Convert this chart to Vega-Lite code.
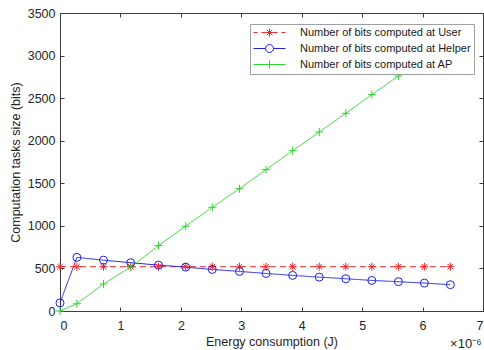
{
  "$schema": "https://vega.github.io/schema/vega-lite/v6.json",
  "width": 423,
  "height": 298,
  "autosize": {"type": "none"},
  "padding": {"left": 60, "top": 13, "right": 1, "bottom": 39},
  "background": "white",
  "config": {
    "view": {"stroke": null},
    "font": "Liberation Sans",
    "axis": {
      "grid": false,
      "domainColor": "#3c3c3c",
      "tickColor": "#3c3c3c",
      "labelColor": "#262626",
      "titleColor": "#262626",
      "labelFont": "Liberation Sans",
      "titleFont": "Liberation Sans",
      "labelFontSize": 12.5,
      "titleFontSize": 12.5,
      "titleFontWeight": "normal",
      "tickSize": -4,
      "domainWidth": 1,
      "format": "d"
    },
    "legend": {"labelLimit": 0}
  },
  "data": {
    "values": [
      {"x": 0, "y": 520, "s": "Number of bits computed at User"},
      {"x": 0.28, "y": 520, "s": "Number of bits computed at User"},
      {"x": 0.72, "y": 520, "s": "Number of bits computed at User"},
      {"x": 1.17, "y": 520, "s": "Number of bits computed at User"},
      {"x": 1.63, "y": 520, "s": "Number of bits computed at User"},
      {"x": 2.08, "y": 520, "s": "Number of bits computed at User"},
      {"x": 2.52, "y": 520, "s": "Number of bits computed at User"},
      {"x": 2.97, "y": 520, "s": "Number of bits computed at User"},
      {"x": 3.41, "y": 520, "s": "Number of bits computed at User"},
      {"x": 3.85, "y": 520, "s": "Number of bits computed at User"},
      {"x": 4.29, "y": 520, "s": "Number of bits computed at User"},
      {"x": 4.73, "y": 520, "s": "Number of bits computed at User"},
      {"x": 5.16, "y": 520, "s": "Number of bits computed at User"},
      {"x": 5.6, "y": 520, "s": "Number of bits computed at User"},
      {"x": 6.03, "y": 520, "s": "Number of bits computed at User"},
      {"x": 6.46, "y": 520, "s": "Number of bits computed at User"},
      {"x": 0, "y": 95, "s": "Number of bits computed at Helper"},
      {"x": 0.28, "y": 630, "s": "Number of bits computed at Helper"},
      {"x": 0.72, "y": 597, "s": "Number of bits computed at Helper"},
      {"x": 1.17, "y": 567, "s": "Number of bits computed at Helper"},
      {"x": 1.63, "y": 539, "s": "Number of bits computed at Helper"},
      {"x": 2.08, "y": 515, "s": "Number of bits computed at Helper"},
      {"x": 2.52, "y": 488, "s": "Number of bits computed at Helper"},
      {"x": 2.97, "y": 465, "s": "Number of bits computed at Helper"},
      {"x": 3.41, "y": 441, "s": "Number of bits computed at Helper"},
      {"x": 3.85, "y": 418, "s": "Number of bits computed at Helper"},
      {"x": 4.29, "y": 398, "s": "Number of bits computed at Helper"},
      {"x": 4.73, "y": 379, "s": "Number of bits computed at Helper"},
      {"x": 5.16, "y": 359, "s": "Number of bits computed at Helper"},
      {"x": 5.6, "y": 344, "s": "Number of bits computed at Helper"},
      {"x": 6.03, "y": 328, "s": "Number of bits computed at Helper"},
      {"x": 6.46, "y": 309, "s": "Number of bits computed at Helper"},
      {"x": 0, "y": 0, "s": "Number of bits computed at AP"},
      {"x": 0.28, "y": 85, "s": "Number of bits computed at AP"},
      {"x": 0.72, "y": 318, "s": "Number of bits computed at AP"},
      {"x": 1.17, "y": 515, "s": "Number of bits computed at AP"},
      {"x": 1.63, "y": 769, "s": "Number of bits computed at AP"},
      {"x": 2.08, "y": 996, "s": "Number of bits computed at AP"},
      {"x": 2.52, "y": 1218, "s": "Number of bits computed at AP"},
      {"x": 2.97, "y": 1437, "s": "Number of bits computed at AP"},
      {"x": 3.41, "y": 1660, "s": "Number of bits computed at AP"},
      {"x": 3.85, "y": 1883, "s": "Number of bits computed at AP"},
      {"x": 4.29, "y": 2102, "s": "Number of bits computed at AP"},
      {"x": 4.73, "y": 2322, "s": "Number of bits computed at AP"},
      {"x": 5.16, "y": 2541, "s": "Number of bits computed at AP"},
      {"x": 5.6, "y": 2760, "s": "Number of bits computed at AP"},
      {"x": 6.03, "y": 2980, "s": "Number of bits computed at AP"},
      {"x": 6.46, "y": 3200, "s": "Number of bits computed at AP"}
    ]
  },
  "layer": [
    {
      "mark": {"type": "line", "strokeWidth": 1},
      "encoding": {
        "x": {"field": "x", "type": "quantitative", "scale": {"domain": [0, 7], "nice": false},
              "axis": {"orient": "bottom", "title": "Energy consumption (J)", "values": [0, 1, 2, 3, 4, 5, 6, 7], "labelPadding": 12, "titlePadding": 4}},
        "y": {"field": "y", "type": "quantitative", "scale": {"domain": [0, 3500], "nice": false},
              "axis": {"orient": "left", "title": "Computation tasks size (bits)", "values": [0, 500, 1000, 1500, 2000, 2500, 3000, 3500], "labelPadding": 9, "titlePadding": 5}},
        "color": {"field": "s", "type": "nominal",
                  "scale": {"domain": ["Number of bits computed at User", "Number of bits computed at Helper", "Number of bits computed at AP"], "range": ["#f02828", "#2020e6", "#2ed62e"]},
                  "legend": null},
        "strokeDash": {"field": "s", "type": "nominal",
                  "scale": {"domain": ["Number of bits computed at User", "Number of bits computed at Helper", "Number of bits computed at AP"], "range": [[6, 4], [1, 0], [1, 0]]},
                  "legend": null}
      }
    },
    {
      "mark": {"type": "point", "filled": false, "strokeWidth": 1, "size": 64, "opacity": 1},
      "encoding": {
        "x": {"field": "x", "type": "quantitative", "scale": {"domain": [0, 7], "nice": false},
              "axis": {"orient": "bottom", "labels": false, "ticks": false, "domain": false, "title": "×10⁻⁶", "titleAnchor": "end", "titleAlign": "right", "titleX": 421, "titleY": 26, "titleFontSize": 13}},
        "y": {"field": "y", "type": "quantitative", "scale": {"domain": [0, 3500], "nice": false}, "axis": null},
        "color": {"field": "s", "type": "nominal",
                  "scale": {"domain": ["Number of bits computed at User", "Number of bits computed at Helper", "Number of bits computed at AP"], "range": ["#f02828", "#2020e6", "#2ed62e"]},
                  "legend": null},
        "shape": {"field": "s", "type": "nominal",
                  "scale": {"domain": ["Number of bits computed at User", "Number of bits computed at Helper", "Number of bits computed at AP"],
                            "range": ["M-1,0L1,0M0,-1L0,1M-0.7,-0.7L0.7,0.7M-0.7,0.7L0.7,-0.7", "circle", "M-1,0L1,0M0,-1L0,1"]},
                  "legend": null}
      }
    },
    {
      "mark": {"type": "point", "filled": false, "strokeWidth": 1, "size": 64, "opacity": 0},
      "encoding": {
        "x": {"field": "x", "type": "quantitative", "scale": {"domain": [0, 7], "nice": false},
              "axis": {"orient": "top", "labels": false, "title": null, "values": [0, 1, 2, 3, 4, 5, 6, 7]}},
        "y": {"field": "y", "type": "quantitative", "scale": {"domain": [0, 3500], "nice": false},
              "axis": {"orient": "right", "labels": false, "title": null, "values": [0, 500, 1000, 1500, 2000, 2500, 3000, 3500]}},
        "color": {"field": "s", "type": "nominal",
                  "scale": {"domain": ["Number of bits computed at User", "Number of bits computed at Helper", "Number of bits computed at AP"], "range": ["#f02828", "#2020e6", "#2ed62e"]},
                  "legend": {"title": null, "orient": "none", "legendX": 190, "legendY": 11, "fillColor": "white", "strokeColor": "#a0a0a0", "padding": 3, "labelFontSize": 11, "labelFont": "Liberation Sans", "labelColor": "#1a1a1a", "labelLimit": 0, "symbolOffset": 11, "labelOffset": 25, "rowPadding": 3, "symbolStrokeWidth": 1, "symbolOpacity": 1, "symbolSize": 64}},
        "shape": {"field": "s", "type": "nominal",
                  "scale": {"domain": ["Number of bits computed at User", "Number of bits computed at Helper", "Number of bits computed at AP"],
                            "range": ["M-4,0L-3,0M-2,0L-1,0M1,0L2,0M3,0L4,0M-1,0L1,0M0,-1L0,1M-0.7,-0.7L0.7,0.7M-0.7,0.7L0.7,-0.7", "M-4,0L-1,0M1,0L4,0M-1,0A1 1 0 1 0 1,0A1 1 0 1 0 -1,0", "M-4,0L4,0M0,-1L0,1"]},
                  "legend": {"title": null, "orient": "none", "legendX": 190, "legendY": 11, "fillColor": "white", "strokeColor": "#a0a0a0", "padding": 3, "labelFontSize": 11, "labelFont": "Liberation Sans", "labelColor": "#1a1a1a", "labelLimit": 0, "symbolOffset": 11, "labelOffset": 25, "rowPadding": 3, "symbolStrokeWidth": 1, "symbolOpacity": 1, "symbolSize": 64}}
      }
    }
  ],
  "resolve": {
    "scale": {"color": "independent", "shape": "independent", "strokeDash": "independent"},
    "axis": {"x": "independent", "y": "independent"}
  }
}
